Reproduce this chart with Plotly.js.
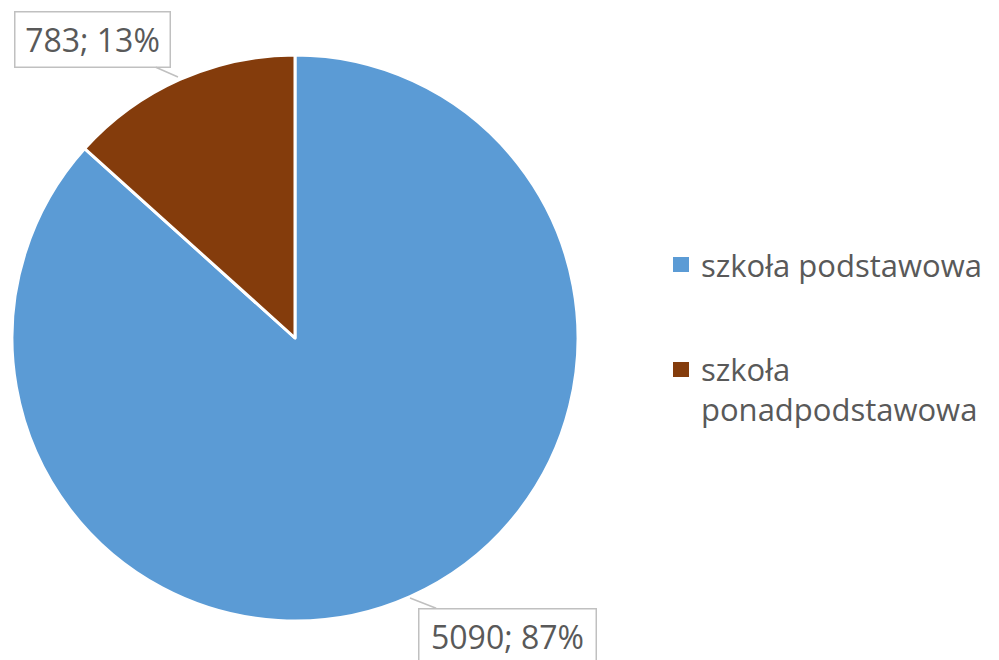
<!DOCTYPE html>
<html>
<head>
<meta charset="utf-8">
<script src="https://cdn.plot.ly/plotly-3.0.1.min.js"></script>
<style>html,body{margin:0;padding:0;background:#fff;}#chart{width:999px;height:660px;}</style>
</head>
<body>
<div id="chart"></div>
<script>
// Data
const categories = ["szkoła podstawowa", "szkoła ponadpodstawowa"];
const values = [5090, 783];
const colors = ["#5B9BD5", "#843C0C"];

const total = values.reduce((a, b) => a + b, 0);
const labelText = values.map(v => v + "; " + Math.round(v / total * 100) + "%");

const W = 999, H = 660;
const px = x => x / W;
const py = y => 1 - y / H;
const txtColor = "#595959";
const font = "Open Sans, Lato, sans-serif";

const trace = {
  type: "pie",
  labels: categories,
  values: values,
  sort: false,
  direction: "clockwise",
  rotation: 0,
  textinfo: "none",
  hoverinfo: "label+value+percent",
  marker: { colors: colors, line: { color: "#ffffff", width: 3 } },
  domain: { x: [px(12), px(578)], y: [py(621), py(55)] },
  showlegend: false
};

const annotations = [
  {
    text: labelText[1], xref: "paper", yref: "paper",
    x: px(178), y: py(77), ax: 92.5 - 178, ay: 39.5 - 77,
    showarrow: true, arrowhead: 0, arrowwidth: 1.5, arrowcolor: "#c0c0c0",
    bordercolor: "#c0c0c0", borderwidth: 1.5, bgcolor: "#ffffff",
    width: 152, height: 52,
    font: { family: font, size: 32, color: txtColor }
  },
  {
    text: labelText[0], xref: "paper", yref: "paper",
    x: px(410), y: py(598), ax: 507 - 410, ay: 636 - 598,
    showarrow: true, arrowhead: 0, arrowwidth: 1.5, arrowcolor: "#c0c0c0",
    bordercolor: "#c0c0c0", borderwidth: 1.5, bgcolor: "#ffffff",
    width: 174, height: 52,
    font: { family: font, size: 32, color: txtColor }
  },
  // legend texts
  {
    text: categories[0], xref: "paper", yref: "paper",
    x: px(699), y: py(265), xanchor: "left", yanchor: "middle",
    showarrow: false, align: "left",
    font: { family: font, size: 31, color: txtColor }
  },
  {
    text: categories[1].replace(" ", "<br>"), xref: "paper", yref: "paper",
    x: px(699), y: py(346), xanchor: "left", yanchor: "top",
    showarrow: false, align: "left",
    font: { family: font, size: 31, color: txtColor }
  }
];

const shapes = [
  { type: "rect", xref: "paper", yref: "paper", x0: px(673), x1: px(689), y0: py(272), y1: py(257),
    fillcolor: colors[0], line: { width: 0 } },
  { type: "rect", xref: "paper", yref: "paper", x0: px(673), x1: px(689), y0: py(377), y1: py(362),
    fillcolor: colors[1], line: { width: 0 } }
];

const layout = {
  width: W, height: H,
  margin: { l: 0, r: 0, t: 0, b: 0 },
  paper_bgcolor: "#ffffff",
  showlegend: false,
  annotations: annotations,
  shapes: shapes
};

Plotly.newPlot("chart", [trace], layout, { displayModeBar: false, staticPlot: true });
</script>
</body>
</html>
